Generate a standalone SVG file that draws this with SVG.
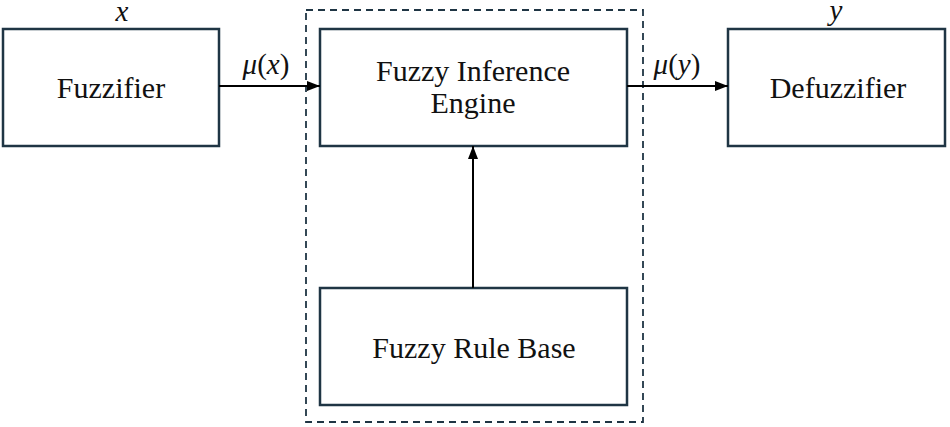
<svg xmlns="http://www.w3.org/2000/svg" width="950" height="427" viewBox="0 0 950 427">
<style>
.b{fill:#fff;stroke:#1f3544;stroke-width:2.5}
.t{font-family:"Liberation Serif","Times New Roman",serif;font-size:30px;fill:#111;text-anchor:middle}
.i{font-family:"Liberation Serif","Times New Roman",serif;font-size:29px;font-style:italic;fill:#111;text-anchor:middle}
.c{stroke:#000;stroke-width:2;fill:none}
</style>
<defs><marker id="a" markerWidth="13" markerHeight="10" refX="13" refY="5" orient="auto" markerUnits="userSpaceOnUse"><path d="M0,0L13,5L0,10z" fill="#000"/></marker></defs>
<rect x="306" y="10" width="337" height="412" fill="none" stroke="#1f3544" stroke-width="1.8" stroke-dasharray="7,5"/>
<g id="fuzzifier"><rect class="b" x="3" y="29" width="216" height="117"/><text class="t" x="111" y="98">Fuzzifier</text></g>
<g id="engine"><rect class="b" x="320" y="29" width="307" height="117"/><text class="t" x="473" y="81">Fuzzy Inference</text><text class="t" x="473" y="113">Engine</text></g>
<g id="defuzzifier"><rect class="b" x="728" y="29" width="217" height="117"/><text class="t" x="838" y="98">Defuzzifier</text></g>
<g id="rulebase"><rect class="b" x="320" y="288" width="307" height="117"/><text class="t" x="474" y="358">Fuzzy Rule Base</text></g>
<text class="i" x="122" y="21">x</text>
<text class="i" x="836" y="20">y</text>
<text class="i" x="266" y="74">μ<tspan font-style="normal">(</tspan>x<tspan font-style="normal">)</tspan></text>
<text class="i" x="677" y="74">μ<tspan font-style="normal">(</tspan>y<tspan font-style="normal">)</tspan></text>
<g id="connectors">
<line class="c" x1="219" y1="86" x2="320" y2="86" marker-end="url(#a)"/>
<line class="c" x1="627" y1="86" x2="728" y2="86" marker-end="url(#a)"/>
<line class="c" x1="473" y1="288" x2="473" y2="146" marker-end="url(#a)"/>
</g>
</svg>
